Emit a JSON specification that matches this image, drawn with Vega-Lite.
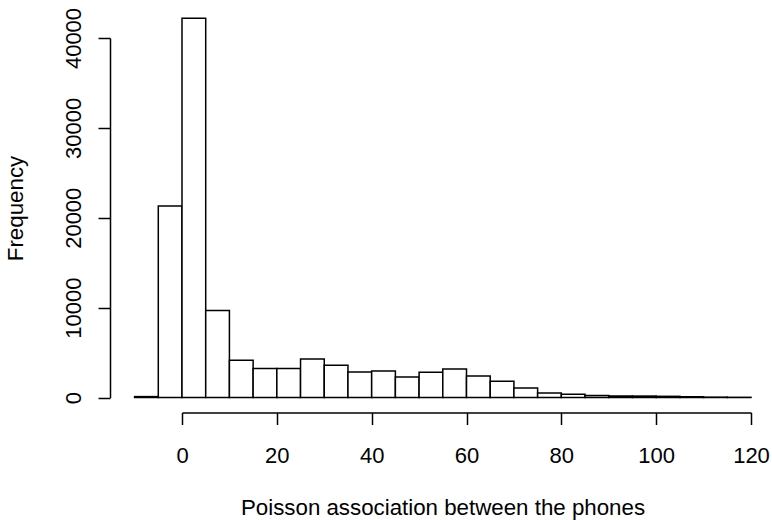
{
  "$schema": "https://vega.github.io/schema/vega-lite/v6.json",
  "autosize": {"type": "none"},
  "padding": {"left": 182, "top": 38, "right": 21, "bottom": 122},
  "width": 569,
  "height": 359.5,
  "background": "white",
  "data": {
    "values": [
      {"bin_start": -10, "bin_end": -5, "count": 100},
      {"bin_start": -5, "bin_end": 0, "count": 21300},
      {"bin_start": 0, "bin_end": 5, "count": 42200},
      {"bin_start": 5, "bin_end": 10, "count": 9680},
      {"bin_start": 10, "bin_end": 15, "count": 4150},
      {"bin_start": 15, "bin_end": 20, "count": 3230},
      {"bin_start": 20, "bin_end": 25, "count": 3230},
      {"bin_start": 25, "bin_end": 30, "count": 4290},
      {"bin_start": 30, "bin_end": 35, "count": 3590},
      {"bin_start": 35, "bin_end": 40, "count": 2830},
      {"bin_start": 40, "bin_end": 45, "count": 2960},
      {"bin_start": 45, "bin_end": 50, "count": 2290},
      {"bin_start": 50, "bin_end": 55, "count": 2820},
      {"bin_start": 55, "bin_end": 60, "count": 3180},
      {"bin_start": 60, "bin_end": 65, "count": 2400},
      {"bin_start": 65, "bin_end": 70, "count": 1810},
      {"bin_start": 70, "bin_end": 75, "count": 1070},
      {"bin_start": 75, "bin_end": 80, "count": 510},
      {"bin_start": 80, "bin_end": 85, "count": 370},
      {"bin_start": 85, "bin_end": 90, "count": 220},
      {"bin_start": 90, "bin_end": 95, "count": 180},
      {"bin_start": 95, "bin_end": 100, "count": 160},
      {"bin_start": 100, "bin_end": 105, "count": 130},
      {"bin_start": 105, "bin_end": 110, "count": 70},
      {"bin_start": 110, "bin_end": 115, "count": 40},
      {"bin_start": 115, "bin_end": 120, "count": 20}
    ]
  },
  "mark": {"type": "bar", "fill": "white", "stroke": "black", "strokeWidth": 1.5, "clip": false},
  "encoding": {
    "x": {
      "field": "bin_start",
      "type": "quantitative",
      "scale": {"domain": [0, 120], "nice": false, "zero": false},
      "axis": {
        "values": [0, 20, 40, 60, 80, 100, 120],
        "offset": 15,
        "grid": false,
        "domainColor": "black",
        "domainWidth": 1.5,
        "tickColor": "black",
        "tickWidth": 1.5,
        "tickSize": 12,
        "labelFont": "Liberation Sans",
        "labelFontSize": 22,
        "labelColor": "black",
        "labelBaseline": "alphabetic",
        "labelPadding": 38,
        "labelFlush": false,
        "labelOverlap": false,
        "title": "Poisson association between the phones",
        "titleFont": "Liberation Sans",
        "titleFontSize": 22.3,
        "titleFontWeight": "normal",
        "titleColor": "black",
        "titleBaseline": "alphabetic",
        "titleX": 260.5,
        "titleY": 102
      }
    },
    "x2": {"field": "bin_end"},
    "y": {
      "field": "count",
      "type": "quantitative",
      "scale": {"domain": [0, 40000], "nice": false},
      "axis": {
        "values": [0, 10000, 20000, 30000, 40000],
        "format": "d",
        "offset": 72,
        "grid": false,
        "domainColor": "black",
        "domainWidth": 1.5,
        "tickColor": "black",
        "tickWidth": 1.5,
        "tickSize": 12,
        "labelFont": "Liberation Sans",
        "labelFontSize": 22,
        "labelColor": "black",
        "labelAngle": 270,
        "labelAlign": "center",
        "labelBaseline": "alphabetic",
        "labelPadding": 18,
        "labelFlush": false,
        "labelOverlap": false,
        "title": "Frequency",
        "titleFont": "Liberation Sans",
        "titleFontSize": 22.3,
        "titleFontWeight": "normal",
        "titleColor": "black",
        "titleAngle": 270,
        "titleBaseline": "alphabetic",
        "titleX": -88,
        "titleY": 170
      }
    },
    "y2": {"datum": 0}
  },
  "config": {"view": {"stroke": null}}
}
